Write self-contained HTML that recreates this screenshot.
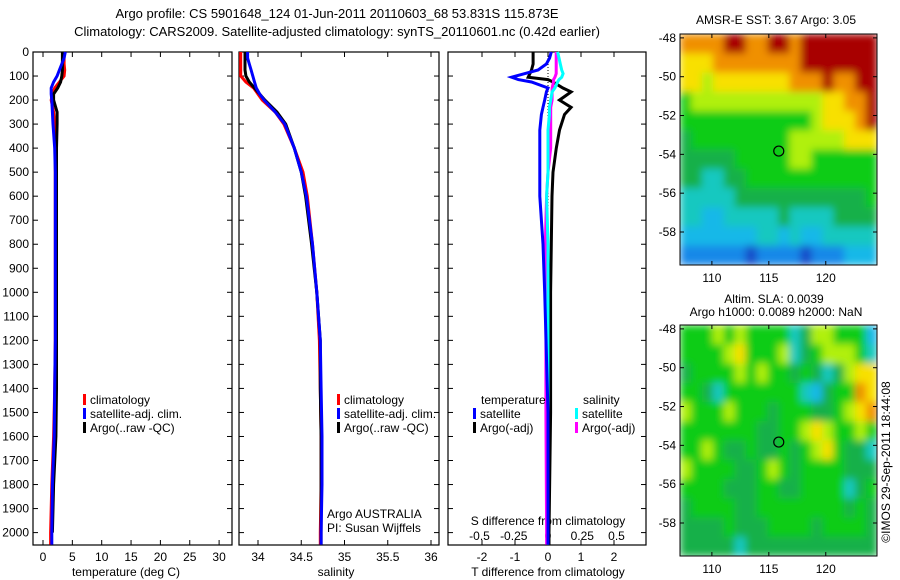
<!DOCTYPE html>
<html><head><meta charset="utf-8"><style>
body{margin:0;background:#fff;}
svg{display:block;font-family:"Liberation Sans",sans-serif;font-size:12px;}
</style></head><body>
<svg id="fig" width="900" height="580" viewBox="0 0 900 580">
<defs id="defs"></defs>
<text x="337" y="18" text-anchor="middle" font-size="13">Argo profile: CS 5901648_124 01-Jun-2011 20110603_68 53.831S 115.873E</text>
<text x="337" y="36" text-anchor="middle" font-size="13">Climatology: CARS2009. Satellite-adjusted climatology: synTS_20110601.nc (0.42d earlier)</text>
<g id="g"></g>
<text transform="translate(890,462) rotate(-90)" text-anchor="middle" font-size="12">©IMOS 29-Sep-2011 18:44:08</text>
</svg>
<script>
const depths=[0,25,50,75,100,125,150,175,200,250,300,400,500,600,800,1000,1200,1400,1600,1800,2000,2050];
const tempClim=[3.6,3.6,3.6,3.7,3.6,2.8,2.0,1.6,1.4,1.8,2.0,2.1,2.1,2.1,2.1,2.1,2.1,2.0,1.8,1.5,1.3,1.3];
const tempSat=[3.8,3.6,3.2,2.8,2.4,1.8,1.4,1.4,1.5,1.6,1.7,2.0,2.1,2.1,2.1,2.1,2.1,2.0,1.9,1.6,1.5,1.5];
const tempArgo=[3.3,3.3,3.3,3.3,3.2,3.0,2.5,1.8,1.8,2.4,2.4,2.3,2.3,2.3,2.3,2.3,2.3,2.3,2.2,1.8,1.6,1.6];
const salClim=[33.8,33.8,33.8,33.8,33.8,33.86,33.95,34.0,34.05,34.2,34.3,34.42,34.52,34.57,34.63,34.68,34.71,34.72,34.73,34.73,34.72,34.72];
const salSat=[33.88,33.88,33.9,33.92,33.94,33.96,33.98,34.02,34.07,34.2,34.31,34.42,34.5,34.56,34.63,34.68,34.72,34.73,34.74,34.74,34.73,34.73];
const salArgo=[33.85,33.85,33.85,33.85,33.86,33.9,33.96,34.02,34.08,34.22,34.32,34.42,34.5,34.55,34.62,34.68,34.72,34.72,34.73,34.73,34.73,34.73];
const dDepths=[0,25,50,75,90,105,115,125,150,166,200,230,260,325,400,500,600,800,1000,1500,2000,2050];
const dTSat=[0.1,0.05,-0.05,-0.3,-0.7,-1.1,-0.9,-0.5,0.0,-0.05,-0.1,-0.15,-0.2,-0.25,-0.25,-0.25,-0.25,-0.15,-0.1,0.0,0.0,0.0];
const dTArgo=[-0.45,-0.45,-0.45,-0.5,-0.55,-0.6,0.0,0.15,0.45,0.7,0.35,0.7,0.5,0.35,0.25,0.15,0.12,0.1,0.08,0.08,0.03,0.03];
const dSSat=[0.07,0.08,0.09,0.1,0.11,0.1,0.08,0.07,0.05,0.03,0.02,0.01,0.01,0.0,0.0,0.0,-0.01,0.0,0.0,0.0,0.0,0.0];
const dSArgo=[0.06,0.06,0.06,0.06,0.06,0.05,0.04,0.04,0.03,0.03,0.03,0.02,0.02,0.02,0.02,0.0,-0.01,-0.02,-0.015,-0.015,-0.01,-0.01];
const depthTicks=[0,100,200,300,400,500,600,700,800,900,1000,1100,1200,1300,1400,1500,1600,1700,1800,1900,2000];
const tempTicks=[0,5,10,15,20,25,30];
const salTicks=[34,34.5,35,35.5,36];
const salTickLabels=["34","34.5","35","35.5","36"];
const dTTicks=[-2,-1,0,1,2];
const dSTicks=[-0.5,-0.25,0,0.25,0.5];
const dSTickLabels=["-0.5","-0.25","0","0.25","0.5"];
const latTicks=[-48,-50,-52,-54,-56,-58];
const lonTicks=[110,115,120];
const argoLon=115.873, argoLat=-53.831;
const sstGrid=[
"888899889989999999","777888888889999999","776777777788898899","566666666666677889","555555555555677789",
"455555555566666777","444445555566555555","443344555555555555","333334444444444445","332233333433334444",
"222222233232233333","111111011110111222"];
const slaGrid=[
"555656555534665552","555567555634566653","455556565545434677","554355555553245587","655565554555445678",
"555555544556765565","556544544545675443","655554456545555444","555544455445555345","455554455555555454",
"444454445555455554","444443444444444444"];
const jet=["#1848c8","#1888e8","#18b8e8","#18c8c0","#18b048","#10cc18","#b0f010","#f8e000","#f09000","#a80000"];

const g=document.getElementById('g');
const defs=document.getElementById('defs');
const NS='http://www.w3.org/2000/svg';
function mk(t,a,parent){const e=document.createElementNS(NS,t);for(const k in a)e.setAttribute(k,a[k]);(parent||g).appendChild(e);return e;}
const y0=52,yPx=0.2403;
const yD=d=>y0+d*yPx;
const xT=v=>43+v*5.87;
const xS=v=>258+(v-34)*86.5;
const xDT=v=>548+v*33;
const xDS=v=>548+v*137;
const P=[{x:33,w:199},{x:239,w:200},{x:448,w:198}];
const pb=545;
P.forEach((p,i)=>{
  const r=mk('rect',{x:p.x,y:y0,width:p.w,height:pb-y0,fill:'none',stroke:'#000','stroke-width':1.2});
  
  
  depthTicks.forEach(d=>{
    mk('line',{x1:p.x,x2:p.x+5,y1:yD(d),y2:yD(d),stroke:'#000'});
    mk('line',{x1:p.x+p.w,x2:p.x+p.w-5,y1:yD(d),y2:yD(d),stroke:'#000'});
  });
});
depthTicks.forEach(d=>{
  const t=mk('text',{x:29,y:yD(d)+4,'text-anchor':'end'});t.textContent=d;
  
  
});
function xticks(arr,labels,fx,ly){arr.forEach((v,i)=>{const x=fx(v);
  mk('line',{x1:x,x2:x,y1:pb,y2:pb-5,stroke:'#000'});mk('line',{x1:x,x2:x,y1:y0,y2:y0+5,stroke:'#000'});
  const t=mk('text',{x:x,y:ly,'text-anchor':'middle'});t.textContent=labels?labels[i]:v;
  
  });}
xticks(tempTicks,null,xT,561);
xticks(salTicks,salTickLabels,xS,561);
xticks(dTTicks,null,xDT,561);
dSTicks.forEach((v,i)=>{const t=mk('text',{x:xDS(v),y:540,'text-anchor':'middle'});t.textContent=dSTickLabels[i];
  
  });
function lbl(x,y,s,n,anchor){const t=mk('text',{x:x,y:y,'text-anchor':anchor||'middle'});t.textContent=s;
  
  return t;}
lbl(126,576,'temperature (deg C)','temp-axis-title');
lbl(336,576,'salinity','salinity-axis-title');
lbl(548,576,'T difference from climatology','tdiff-axis-title');
lbl(548,525,'S difference from climatology','sdiff-axis-title');
lbl(327,518,'Argo AUSTRALIA','argo-credit','start');
lbl(327,532,'PI: Susan Wijffels','pi-credit','start');
mk('line',{x1:xDT(0),x2:xDT(0),y1:y0,y2:yD(700),stroke:'#000','stroke-dasharray':'1,2'});
function line(xs,ds,fx,col,n){const pts=xs.map((v,i)=>fx(v).toFixed(1)+','+yD(ds[i]).toFixed(1)).join(' ');
  const e=mk('polyline',{points:pts,fill:'none',stroke:col,'stroke-width':3,'stroke-linejoin':'miter'});
  
  }
line(tempClim,depths,xT,'#f00','temp-climatology-line');
line(tempArgo,depths.slice(0,21),xT,'#000','temp-argo-line');
line(tempSat,depths,xT,'#00f','temp-satellite-line');
line(salClim,depths,xS,'#f00','sal-climatology-line');
line(salArgo,depths,xS,'#000','sal-argo-line');
line(salSat,depths,xS,'#00f','sal-satellite-line');
line(dTArgo,dDepths,xDT,'#000','tdiff-argo-line');
line(dSArgo,dDepths,xDS,'#f0f','sdiff-argo-line');
line(dSSat,dDepths,xDS,'#0ff','sdiff-satellite-line');
line(dTSat,dDepths,xDT,'#00f','tdiff-satellite-line');
function leg(x,y,col,s,n){mk('rect',{x:x,y:y-10,width:3,height:11,fill:col});
  const t=mk('text',{x:x+7,y:y});t.textContent=s;
  
  }
[83,337].forEach(x=>{
  leg(x,404,'#f00','climatology','legend-climatology');
  leg(x,418,'#00f','satellite-adj. clim.','legend-satellite');
  leg(x,432,'#000','Argo(..raw -QC)','legend-argo');});
lbl(481,404,'temperature','legend-temp-header','start');
leg(473,418,'#00f','satellite','legend-temp-satellite');
leg(473,432,'#000','Argo(-adj)','legend-temp-argo');
lbl(583,404,'salinity','legend-sal-header','start');
leg(575,418,'#0ff','satellite','legend-sal-satellite');
leg(575,432,'#f0f','Argo(-adj)','legend-sal-argo');
// maps
const mX=680,mW=197,mH=231,lon0=107.2,lon1=124.5,lat0=-47.8,lat1=-59.7;
function map(top,grid,n){
  const fx=v=>mX+(v-lon0)/(lon1-lon0)*mW, fy=v=>top+(v-lat0)/(lat1-lat0)*mH;
  const f=mk('filter',{id:n+'-blur',filterUnits:'userSpaceOnUse',x:mX,y:top,width:mW,height:mH},defs);
  mk('feGaussianBlur',{stdDeviation:4,edgeMode:'duplicate'},f);
  const cg=mk('g',{filter:'url(#'+n+'-blur)'});
  const rows=grid.length,cols=grid[0].length,cw=mW/cols,ch=mH/rows;
  grid.forEach((row,r)=>{[...row].forEach((c,k)=>{
    const e=mk('rect',{x:(mX+k*cw).toFixed(2),y:(top+r*ch).toFixed(2),width:(cw+0.5).toFixed(2),height:(ch+0.5).toFixed(2),fill:jet[+c]},cg);
    
    });});
  const b=mk('rect',{x:mX,y:top,width:mW,height:mH,fill:'none',stroke:'#000'});
  
  
  latTicks.forEach(v=>{mk('line',{x1:mX,x2:mX+4,y1:fy(v),y2:fy(v),stroke:'#000'});mk('line',{x1:mX+mW,x2:mX+mW-4,y1:fy(v),y2:fy(v),stroke:'#000'});
    lbl(676,fy(v)+4,v,'lat-tick-label','end');});
  lonTicks.forEach(v=>{mk('line',{x1:fx(v),x2:fx(v),y1:top+mH,y2:top+mH-4,stroke:'#000'});mk('line',{x1:fx(v),x2:fx(v),y1:top,y2:top+4,stroke:'#000'});
    lbl(fx(v),top+mH+17,v,'lon-tick-label');});
  const c=mk('circle',{cx:fx(argoLon),cy:fy(argoLat),r:5,fill:'none',stroke:'#000','stroke-width':1.2});
  
  
}
map(34,sstGrid,'sst-map');
map(325,slaGrid,'sla-map');
lbl(776,24,'AMSR-E SST: 3.67 Argo: 3.05','sst-map-title');
lbl(774,303,'Altim. SLA: 0.0039','sla-map-title-1');
lbl(776,316,'Argo h1000: 0.0089 h2000: NaN','sla-map-title-2');
</script>
</body></html>
